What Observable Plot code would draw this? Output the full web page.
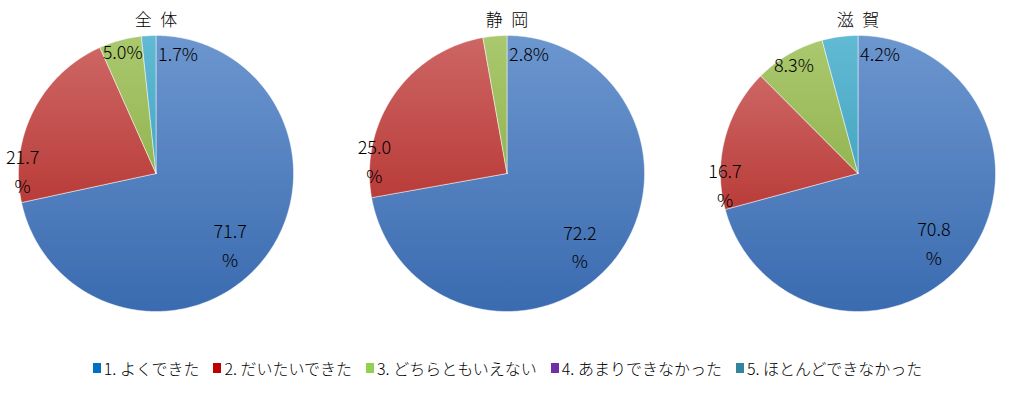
<!DOCTYPE html>
<html><head><meta charset="utf-8">
<script src="https://cdn.jsdelivr.net/npm/d3@7"></script>
<script src="https://cdn.jsdelivr.net/npm/@observablehq/plot@0.6"></script>
<style>
body{margin:0;background:#fff;font-family:"Noto Sans CJK JP","Noto Sans",sans-serif;}
#chart svg{display:block;font-family:"Noto Sans CJK JP","Noto Sans",sans-serif;font-weight:300;}
#legend{display:flex;justify-content:center;gap:14px;font-size:16px;line-height:18px;padding-top:24px;color:#000;font-weight:300;}
#legend .item{display:flex;align-items:center;white-space:nowrap;}
#legend .sw{display:inline-block;width:8px;height:10px;margin-right:3px;}
</style></head><body><div id="chart"></div><script>
const groups = ["全体", "静岡", "滋賀"];
const categories = ["1. よくできた", "2. だいたいできた", "3. どちらともいえない", "4. あまりできなかった", "5. ほとんどできなかった"];
const valuesZentai = [71.7, 21.7, 5.0, 0, 1.7];
const valuesShizuoka = [72.2, 25.0, 2.8, 0, 0];
const valuesShiga = [70.8, 16.7, 8.3, 0, 4.2];
const legendColors = ["#0070C0", "#C00000", "#92D050", "#7030A0", "#31859C"];
const pieTop = ["#6c96ce", "#cd6664", "#aac86e", "#8a6fb0", "#62bad4"];
const pieBottom = ["#3a6bb0", "#b93c39", "#94b552", "#5f4585", "#46a6c2"];

const series = [valuesZentai, valuesShizuoka, valuesShiga];
const slicePts = [], labels = [];
groups.forEach((g, gi) => {
  const vals = series[gi];
  const total = d3.sum(vals);
  const nz = vals.map((v, i) => v > 0 ? i : -1).filter(i => i >= 0);
  const last = nz[nz.length - 1];
  let acc = 0;
  vals.forEach((v, i) => {
    const t0 = acc / total, t1 = (acc + v) / total; acc += v;
    if (v <= 0) return;
    const key = g + "-" + i;
    slicePts.push({g, key, cat: i, x: 0, y: 0});
    const n = Math.max(2, Math.ceil((t1 - t0) * 360));
    for (let k = 0; k <= n; k++) {
      const t = t0 + (t1 - t0) * k / n;
      slicePts.push({g, key, cat: i, x: Math.sin(2 * Math.PI * t), y: Math.cos(2 * Math.PI * t)});
    }
    slicePts.push({g, key, cat: i, x: 0, y: 0});
    let t, rho, anchor = "middle", text;
    if (v >= 50) { t = (t0 + t1) / 2 + 0.012; rho = 0.74; text = v.toFixed(1) + "\n%"; }
    else if (v >= 10) { t = t0 + 0.18 * (t1 - t0); rho = 0.97; text = v.toFixed(1) + "\n%"; }
    else if (v < 5 && i === last) { t = 0; rho = 0.86; anchor = "start"; text = v.toFixed(1) + "%"; }
    else { t = (t0 + t1) / 2; rho = 0.93; text = v.toFixed(1) + "%"; }
    labels.push({g, x: rho * Math.sin(2 * Math.PI * t), y: rho * Math.cos(2 * Math.PI * t), text, anchor});
  });
});

const W = 1015, H = 335, R = 138;
const chart = Plot.plot({
  width: W, height: H,
  marginLeft: 5, marginRight: 6, marginTop: 28, marginBottom: 17,
  fx: {domain: groups, paddingInner: 0.1477, paddingOuter: 0, axis: null},
  x: {domain: [-150 / R, 150 / R], axis: null},
  y: {domain: [-145 / R, 145 / R], axis: null},
  marks: [
    Plot.line(slicePts, {fx: "g", x: "x", y: "y", z: "key", fill: d => `url(#pg${d.cat})`, stroke: "#ffffff", strokeWidth: 0.8, strokeOpacity: 0.6, curve: "linear"}),
    Plot.text(labels.filter(d => d.anchor === "middle"), {fx: "g", x: "x", y: "y", text: "text", fontSize: 18, lineHeight: 1.6, fill: "#000"}),
    Plot.text(labels.filter(d => d.anchor === "start"), {fx: "g", x: "x", y: "y", text: "text", fontSize: 18, textAnchor: "start", dx: 2, fill: "#000"}),
    Plot.text(groups, {fx: d => d, text: d => [...d].join("\u2002"), frameAnchor: "top", lineAnchor: "middle", dy: -8, fontSize: 17, fill: "#000"})
  ]
});
const ns = "http://www.w3.org/2000/svg";
const defs = document.createElementNS(ns, "defs");
pieTop.forEach((c, i) => {
  const lg = document.createElementNS(ns, "linearGradient");
  lg.setAttribute("id", "pg" + i);
  lg.setAttribute("x1", "0"); lg.setAttribute("y1", "0"); lg.setAttribute("x2", "0"); lg.setAttribute("y2", "1");
  [[0, c], [1, pieBottom[i]]].forEach(([o, col]) => {
    const s = document.createElementNS(ns, "stop");
    s.setAttribute("offset", o); s.setAttribute("stop-color", col);
    lg.appendChild(s);
  });
  defs.appendChild(lg);
});
chart.insertBefore(defs, chart.firstChild);
document.getElementById("chart").appendChild(chart);

const legend = document.createElement("div");
legend.id = "legend";
categories.forEach((c, i) => {
  const it = document.createElement("span"); it.className = "item";
  const sw = document.createElement("span"); sw.className = "sw"; sw.style.background = legendColors[i];
  it.appendChild(sw); it.appendChild(document.createTextNode(c));
  legend.appendChild(it);
});
document.body.appendChild(legend);
</script></body></html>
